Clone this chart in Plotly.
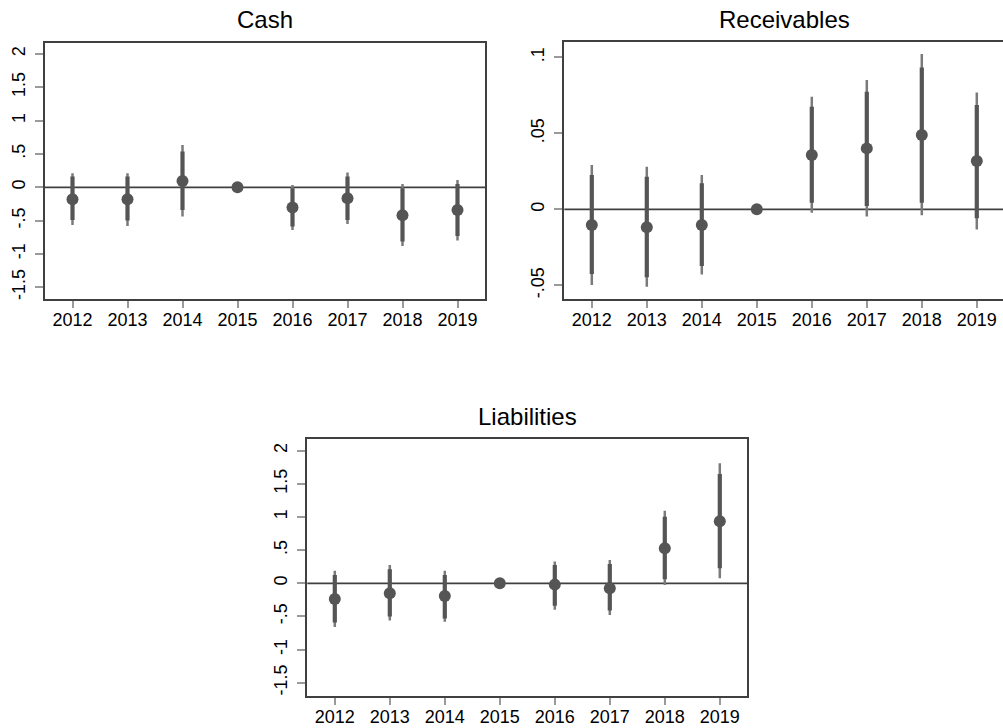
import plotly.graph_objects as go

W, H = 1003, 728

years = [2012, 2013, 2014, 2015, 2016, 2017, 2018, 2019]

# Cash
cash_coef = [-0.18, -0.18, 0.095, 0.0, -0.305, -0.165, -0.42, -0.34]
cash_hi_thin = [0.21, 0.21, 0.635, 0.0, 0.035, 0.22, 0.05, 0.11]
cash_lo_thin = [-0.565, -0.58, -0.44, 0.0, -0.64, -0.55, -0.88, -0.80]
cash_hi_thick = [0.16, 0.16, 0.535, 0.0, -0.015, 0.16, -0.015, 0.05]
cash_lo_thick = [-0.49, -0.50, -0.34, 0.0, -0.59, -0.49, -0.815, -0.73]

# Receivables
rec_coef = [-0.0103, -0.0118, -0.0103, 0.0, 0.0357, 0.0401, 0.0489, 0.0318]
rec_hi_thin = [0.0292, 0.0280, 0.0226, 0.0, 0.0741, 0.0851, 0.1022, 0.0768]
rec_lo_thin = [-0.0498, -0.0509, -0.0428, 0.0, -0.0022, -0.0048, -0.0039, -0.0132]
rec_hi_thick = [0.0226, 0.0215, 0.0171, 0.0, 0.0675, 0.0774, 0.0934, 0.0686]
rec_lo_thick = [-0.0425, -0.0447, -0.0373, 0.0, 0.0044, 0.0022, 0.0044, -0.0059]

# Liabilities
liab_coef = [-0.236, -0.15, -0.19, 0.0, -0.02, -0.075, 0.53, 0.935]
liab_hi_thin = [0.19, 0.276, 0.19, 0.0, 0.33, 0.35, 1.095, 1.81]
liab_lo_thin = [-0.66, -0.56, -0.58, 0.0, -0.40, -0.48, -0.025, 0.075]
liab_hi_thick = [0.126, 0.21, 0.126, 0.0, 0.276, 0.29, 1.005, 1.65]
liab_lo_thick = [-0.59, -0.50, -0.53, 0.0, -0.34, -0.41, 0.06, 0.226]

big_ticks = [2, 1.5, 1, 0.5, 0, -0.5, -1, -1.5]
big_ticktext = ["2", "1.5", "1", ".5", "0", "-.5", "-1", "-1.5"]
rec_ticks = [0.1, 0.05, 0, -0.05]
rec_ticktext = [".1", ".05", "0", "-.05"]

panels = [
    dict(title="Cash", coef=cash_coef, hi1=cash_hi_thin, lo1=cash_lo_thin,
         hi2=cash_hi_thick, lo2=cash_lo_thick,
         px=(45, 485), py=(42.7, 299), yr=(-1.676, 2.169),
         tv=big_ticks, tt=big_ticktext),
    dict(title="Receivables", coef=rec_coef, hi1=rec_hi_thin, lo1=rec_lo_thin,
         hi2=rec_hi_thick, lo2=rec_lo_thick,
         px=(564.3, 1004.3), py=(42.3, 299.3), yr=(-0.0592, 0.1099),
         tv=rec_ticks, tt=rec_ticktext),
    dict(title="Liabilities", coef=liab_coef, hi1=liab_hi_thin, lo1=liab_lo_thin,
         hi2=liab_hi_thick, lo2=liab_lo_thick,
         px=(307.3, 747.3), py=(439.3, 696), yr=(-1.70, 2.172),
         tv=big_ticks, tt=big_ticktext),
]

FONT = "Liberation Sans, Arial, Helvetica, sans-serif"
DARK = "#555555"
THIN = "#7a7a7a"
FRAME = "#404040"

fig = go.Figure()
layout = dict(
    width=W, height=H, margin=dict(l=0, r=0, t=0, b=0, autoexpand=False),
    paper_bgcolor="white", plot_bgcolor="white", showlegend=False,
    font=dict(family=FONT, color="black"),
    shapes=[], annotations=[],
)


def seg(xs, lo, hi):
    X, Y = [], []
    for x, a, b in zip(xs, lo, hi):
        X += [x, x, None]
        Y += [a, b, None]
    return X, Y


for i, p in enumerate(panels):
    k = "" if i == 0 else str(i + 1)
    xa, ya = "x" + k, "y" + k
    x0, x1 = p["px"]
    # keep 55 px per year, clip at paper edge
    xr0 = 2011.5
    px1 = min(x1, W)
    xr1 = xr0 + (px1 - x0) / 55.0
    dom_x = [x0 / W, px1 / W]
    dom_y = [1 - p["py"][1] / H, 1 - p["py"][0] / H]

    X, Y = seg(years, p["lo1"], p["hi1"])
    fig.add_trace(go.Scatter(x=X, y=Y, mode="lines", xaxis=xa, yaxis=ya,
                             line=dict(color=THIN, width=2.5), hoverinfo="skip"))
    X, Y = seg(years, p["lo2"], p["hi2"])
    fig.add_trace(go.Scatter(x=X, y=Y, mode="lines", xaxis=xa, yaxis=ya,
                             line=dict(color=DARK, width=4.2), hoverinfo="skip"))
    fig.add_trace(go.Scatter(x=years, y=p["coef"], mode="markers", xaxis=xa, yaxis=ya,
                             marker=dict(color=DARK, size=12, symbol="circle",
                                         line=dict(width=0))))

    layout["xaxis" + k] = dict(
        domain=dom_x, anchor=ya, range=[xr0, xr1], automargin=False,
        tickmode="array", tickvals=years, ticktext=[str(y) for y in years],
        showline=True, linecolor=FRAME, linewidth=1.8, mirror=True,
        ticks="outside", ticklen=7, tickwidth=1.5, tickcolor="#9a9a9a",
        showgrid=False, zeroline=False, tickfont=dict(size=18, family=FONT, color="black"),
        ticklabelstandoff=-4, fixedrange=True,
    )
    layout["yaxis" + k] = dict(
        domain=dom_y, anchor=xa, range=list(p["yr"]), automargin=False,
        tickmode="array", tickvals=p["tv"], ticktext=p["tt"], tickangle=-90,
        showline=True, linecolor=FRAME, linewidth=1.8, mirror=True,
        ticks="outside", ticklen=8, tickwidth=1.5, tickcolor="#9a9a9a",
        showgrid=False, zeroline=False, tickfont=dict(size=18, family=FONT, color="black"),
        ticklabelstandoff=3, fixedrange=True,
    )
    layout["shapes"].append(dict(
        type="line", xref=xa + " domain", yref=ya, x0=0, x1=1, y0=0, y1=0,
        line=dict(color=FRAME, width=1.8), layer="below"))
    layout["annotations"].append(dict(
        text=p["title"], xref="paper", yref="paper",
        x=((x0 + x1) / 2) / W, y=1 - (p["py"][0] - 23) / H,
        xanchor="center", yanchor="middle", showarrow=False,
        font=dict(size=24, family=FONT, color="black")))

fig.update_layout(**layout)
fig.write_html("out.html", config={"displayModeBar": False},
               post_script="document.body.style.margin='0';document.body.style.overflow='hidden';")
